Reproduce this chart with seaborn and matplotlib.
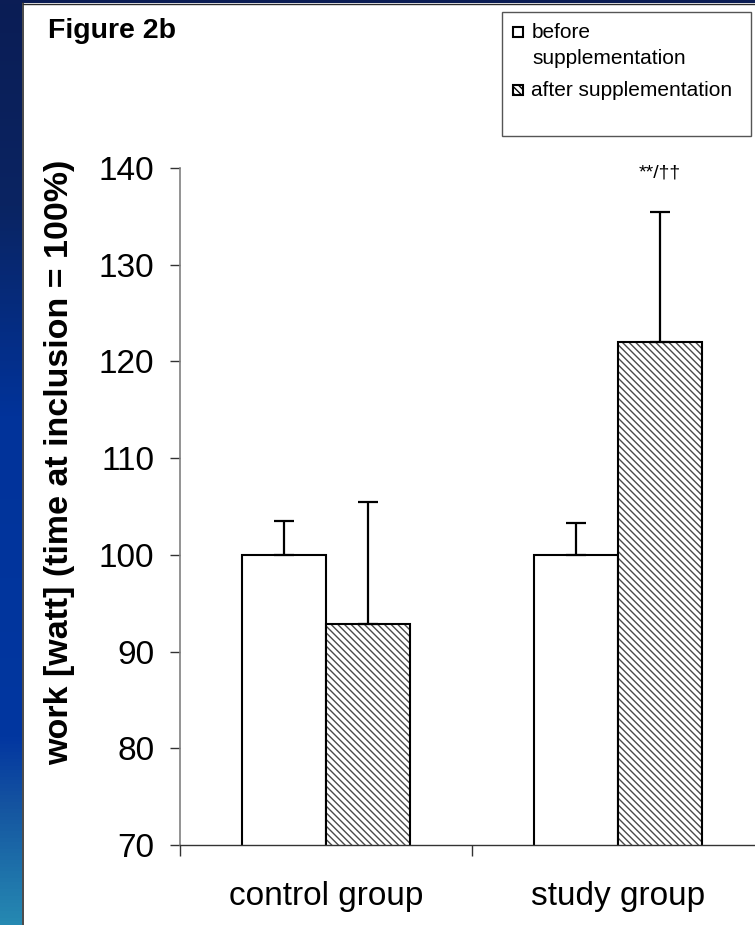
import numpy as np
import pandas as pd
import seaborn as sns
import matplotlib.pyplot as plt
from matplotlib.patches import Rectangle
from matplotlib.lines import Line2D
from matplotlib.colors import LinearSegmentedColormap, to_rgba

# ---- data -------------------------------------------------------------
groups = ["control group", "study group"]
phases = ["before", "after"]
before_mean = [100.0, 100.0]
after_mean = [92.9, 122.0]
before_sd = [3.5, 3.3]
after_sd = [12.6, 13.4]
y_ticks = [70, 80, 90, 100, 110, 120, 130, 140]
significance = "**/††"

df = pd.DataFrame({
    "group": groups * 2,
    "phase": [phases[0]] * 2 + [phases[1]] * 2,
    "value": before_mean + after_mean,
})

# ---- style ------------------------------------------------------------
sns.set_theme(style="white")
plt.rcParams["font.family"] = ["Liberation Sans", "DejaVu Sans"]
plt.rcParams["hatch.linewidth"] = 1.0
for key in ("text.color", "axes.labelcolor", "xtick.color", "ytick.color"):
    plt.rcParams[key] = "black"

W, H = 755, 925
fig = plt.figure(figsize=(W / 100, H / 100), dpi=100, facecolor="white")


def fx(px):
    return px / W


def fy(py):
    return 1 - py / H


# slide backdrop: blue gradient strip on the left, navy band on top
grad = LinearSegmentedColormap.from_list(
    "slide",
    [(0.0, "#0b1d55"), (0.22, "#0a2462"), (0.45, "#01339a"),
     (0.80, "#0237a0"), (0.87, "#1453a0"), (1.0, "#2689b2")],
)
strip = fig.add_axes([0, 0, fx(22), 1])
strip.imshow(np.linspace(0, 1, 256).reshape(-1, 1), cmap=grad,
             aspect="auto", extent=[0, 1, 1, 0])
strip.set_axis_off()
fig.add_artist(Rectangle((0, fy(3)), 1, 3 / H, transform=fig.transFigure,
                         facecolor="#0b1d55", edgecolor="none"))
fig.add_artist(Line2D([fx(22.5), fx(22.5)], [0, fy(3)], transform=fig.transFigure,
                      color="#2a2a2a", lw=1.2))
fig.add_artist(Line2D([fx(22.5), 1], [fy(3.5), fy(3.5)], transform=fig.transFigure,
                      color="#2a2a2a", lw=1.0))

# ---- bars -------------------------------------------------------------
ax = fig.add_axes([fx(180), fy(845), 584 / W, (845 - 168) / H])
sns.barplot(data=df, x="group", y="value", hue="phase", hue_order=phases,
            palette=["white", "white"], saturation=1, width=0.575,
            edgecolor="black", linewidth=1.5, errorbar=None, legend=False,
            ax=ax)

for bar in ax.containers[1]:
    bar.set_hatch("\\\\\\\\\\")
    bar._hatch_color = to_rgba("#4a4a4a")

x_before = [b.get_x() + b.get_width() / 2 for b in ax.containers[0]]
x_after = [b.get_x() + b.get_width() / 2 for b in ax.containers[1]]

# one-sided (upper) error bars
ax.errorbar(x_before, before_mean, yerr=[np.zeros(2), before_sd], fmt="none",
            ecolor="black", elinewidth=1.6, capsize=7, capthick=1.6, zorder=3)
ax.errorbar(x_after, after_mean, yerr=[np.zeros(2), after_sd], fmt="none",
            ecolor="black", elinewidth=1.6, capsize=7, capthick=1.6, zorder=3)

ax.text(x_after[1], 139.5, significance, ha="center", va="center",
        fontsize=14, clip_on=False)

# ---- axes -------------------------------------------------------------
ax.set_xlim(-0.5, 1.5)
ax.set_ylim(70, 140)
ax.set_yticks(y_ticks)
ax.set_xticks([0, 1])
ax.set_xticklabels(groups)
ax.set_xticks([-0.5, 0.5, 1.5], minor=True)
ax.tick_params(axis="x", which="major", length=0, pad=26, labelsize=24)
ax.tick_params(axis="x", which="minor", length=8, width=1, color="#333333",
               bottom=True, direction="out")
ax.tick_params(axis="y", length=7.5, width=1, color="#333333", left=True,
               direction="out", pad=11, labelsize=24)
ax.set_xlabel("")
ax.set_ylabel("work [watt] (time at inclusion = 100%)", fontsize=24.5,
              fontweight="bold")
ax.yaxis.set_label_coords(-0.18, 0.565)
for side in ("top", "right"):
    ax.spines[side].set_visible(False)
ax.spines["left"].set_color("#808080")
ax.spines["left"].set_linewidth(1.2)
ax.spines["bottom"].set_color("#333333")
ax.spines["bottom"].set_linewidth(1.0)
ax.set_facecolor("none")

# ---- title ------------------------------------------------------------
fig.text(fx(48), fy(38), "Figure 2b", fontsize=20.5, fontweight="bold",
         ha="left", va="baseline")

# ---- legend box -------------------------------------------------------
fig.add_artist(Rectangle((fx(502), fy(136)), 249 / W, 124 / H,
                         transform=fig.transFigure, facecolor="white",
                         edgecolor="#555555", lw=1.0))
fig.add_artist(Rectangle((fx(513), fy(37)), 10 / W, 10 / H,
                         transform=fig.transFigure, facecolor="white",
                         edgecolor="black", lw=1.5))
fig.add_artist(Rectangle((fx(513), fy(95)), 10 / W, 10 / H,
                         transform=fig.transFigure, facecolor="white",
                         edgecolor="black", lw=1.5, hatch="\\\\\\\\\\"))
fig.text(fx(532), fy(32), "before", fontsize=15, ha="left", va="center")
fig.text(fx(532), fy(58), "supplementation", fontsize=15, ha="left", va="center")
fig.text(fx(531), fy(90), "after supplementation", fontsize=15, ha="left",
         va="center")

fig.savefig("out.png", dpi=100, facecolor=fig.get_facecolor())
